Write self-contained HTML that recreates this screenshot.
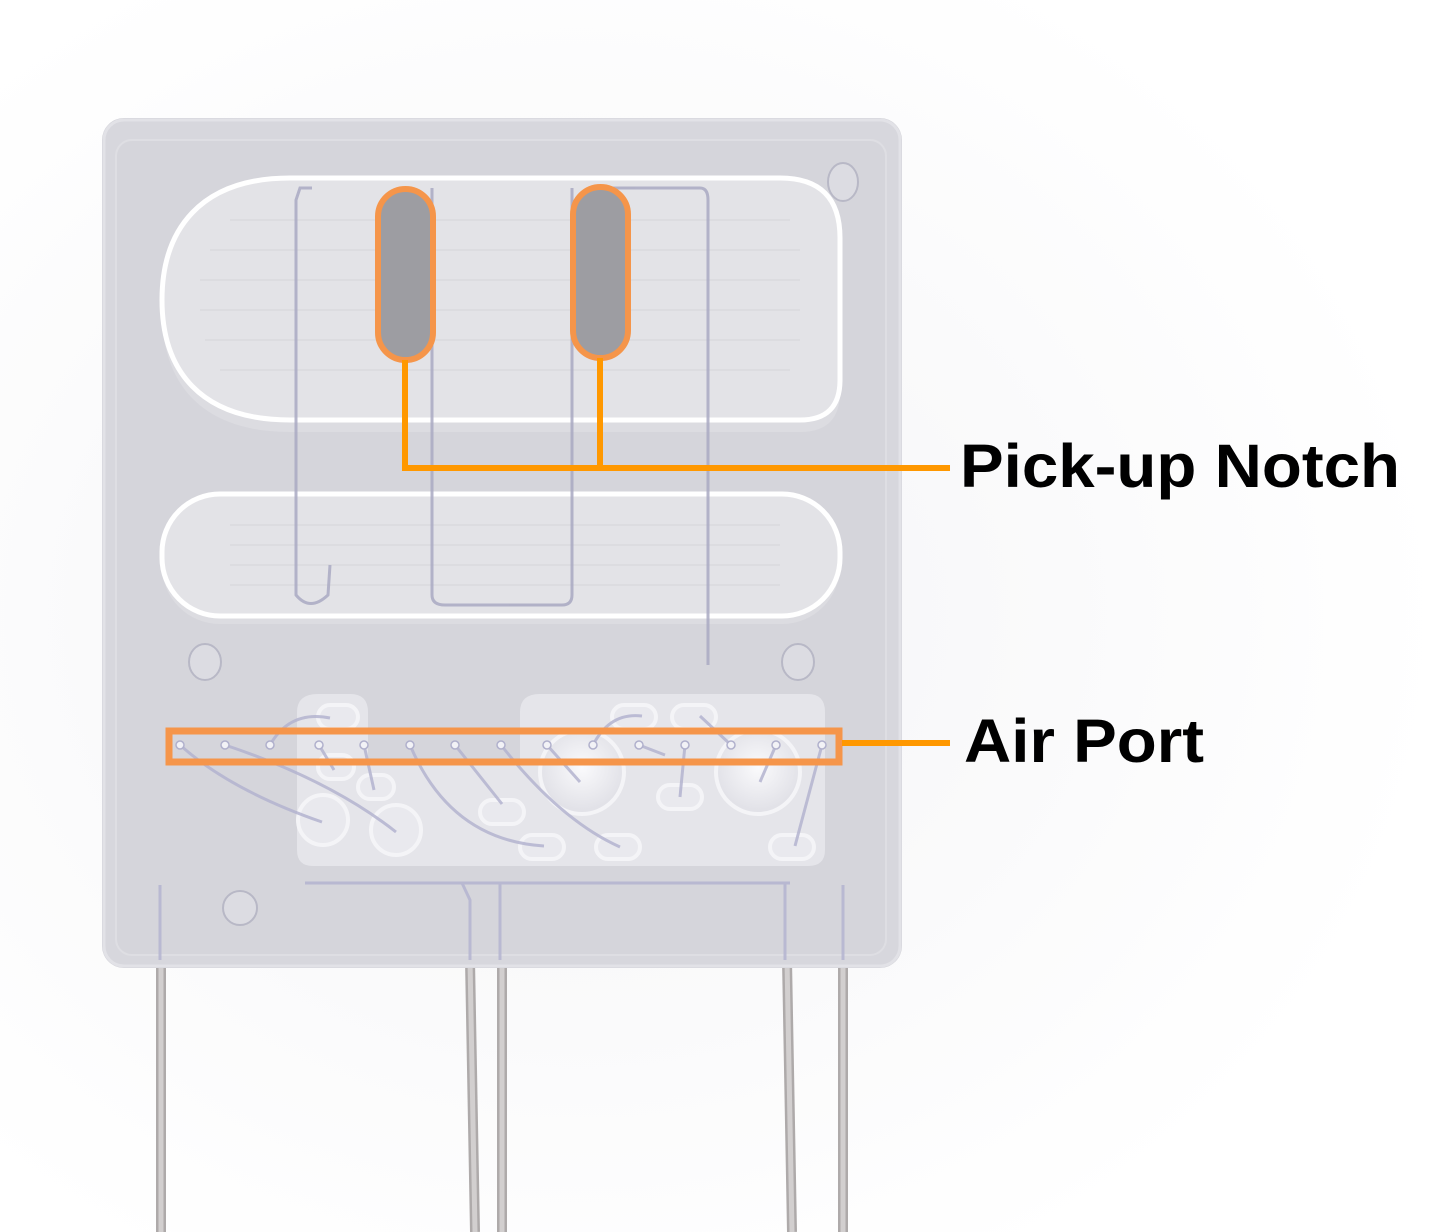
<!DOCTYPE html>
<html><head><meta charset="utf-8"><style>
html,body{margin:0;padding:0;background:#fff;}
svg{display:block;}
</style></head><body>
<svg width="1444" height="1232" viewBox="0 0 1444 1232" xmlns="http://www.w3.org/2000/svg">
<defs>
<radialGradient id="bg" cx="0.4" cy="0.5" r="0.6">
<stop offset="0" stop-color="#f4f4f6"/><stop offset="1" stop-color="#ffffff"/>
</radialGradient>
<radialGradient id="dome" cx="0.5" cy="0.45" r="0.5">
<stop offset="0" stop-color="#fafafc"/><stop offset="1" stop-color="#e2e2e8"/>
</radialGradient>
</defs>
<rect width="1444" height="1232" fill="url(#bg)"/>
<g stroke-linecap="butt">
<line x1="161" y1="960" x2="161" y2="1232" stroke="#aeaaaa" stroke-width="10"/>
<line x1="161" y1="960" x2="161" y2="1232" stroke="#d2cfcf" stroke-width="5"/>
<line x1="470" y1="960" x2="475" y2="1232" stroke="#aeaaaa" stroke-width="10"/>
<line x1="470" y1="960" x2="475" y2="1232" stroke="#d2cfcf" stroke-width="5"/>
<line x1="502" y1="960" x2="502" y2="1232" stroke="#aeaaaa" stroke-width="10"/>
<line x1="502" y1="960" x2="502" y2="1232" stroke="#d2cfcf" stroke-width="5"/>
<line x1="787" y1="960" x2="792" y2="1232" stroke="#aeaaaa" stroke-width="10"/>
<line x1="787" y1="960" x2="792" y2="1232" stroke="#d2cfcf" stroke-width="5"/>
<line x1="843" y1="960" x2="843" y2="1232" stroke="#aeaaaa" stroke-width="10"/>
<line x1="843" y1="960" x2="843" y2="1232" stroke="#d2cfcf" stroke-width="5"/>
</g>
<rect x="102" y="118" width="800" height="850" rx="22" fill="#d2d2d8"/>
<rect x="104" y="120" width="796" height="846" rx="20" fill="#d7d7dd" stroke="#e2e2e7" stroke-width="3"/>
<rect x="116" y="140" width="770" height="815" rx="16" fill="#d5d5db" stroke="#dedee3" stroke-width="2"/>
<g fill="#dcdce2" stroke="#b8b8c6" stroke-width="2">
<ellipse cx="843" cy="182" rx="15" ry="19"/>
<ellipse cx="205" cy="662" rx="16" ry="18"/>
<ellipse cx="798" cy="662" rx="16" ry="18"/>
<ellipse cx="240" cy="908" rx="17" ry="17"/>
</g>
<!-- upper chamber -->
<path d="M290,190 H780 Q840,190 840,250 V392 Q840,432 800,432 H290 C200,432 162,382 162,312 C162,242 200,190 290,190 Z" fill="#dcdce1"/>
<path d="M290,178 H780 Q840,178 840,238 V380 Q840,420 800,420 H290 C200,420 162,370 162,300 C162,230 200,178 290,178 Z" fill="#e3e3e7" stroke="#ffffff" stroke-width="5"/>
<g stroke="#d9d9df" stroke-width="2" fill="none" opacity="0.8">
<path d="M230,220 H790 M210,250 H800 M200,280 H800 M200,310 H800 M205,340 H800 M220,370 H790"/>
</g>
<!-- lower chamber -->
<rect x="162" y="502" width="678" height="122" rx="58" fill="#dcdce1"/>
<rect x="162" y="494" width="678" height="122" rx="58" fill="#e3e3e7" stroke="#ffffff" stroke-width="5"/>
<g stroke="#d9d9df" stroke-width="2" fill="none" opacity="0.8">
<path d="M230,525 H780 M230,545 H780 M230,565 H780 M230,585 H780"/>
</g>
<g fill="none" stroke="#a9a9c2" stroke-width="3" opacity="0.85">
<path d="M312,188 L300,188 L296,200 L296,595 Q310,612 328,595 L330,565"/>
<path d="M432,188 L432,595 Q432,605 445,605 L562,605 Q572,605 572,595 L572,188"/>
<path d="M600,188 L700,188 Q708,188 708,200 L708,665"/>
</g>
<rect x="378" y="189" width="55" height="171" rx="27.5" fill="#9d9da2" stroke="#f5954a" stroke-width="6"/>
<rect x="573" y="187" width="55" height="171" rx="27.5" fill="#9d9da2" stroke="#f5954a" stroke-width="6"/>
<path d="M405,360 V468 H950 M600,358 V468" fill="none" stroke="#ff9800" stroke-width="6"/>
<path d="M318,694 L350,694 Q368,694 368,712 L368,760 L520,760 L520,712 Q520,694 540,694 L808,694 Q825,694 825,712 L825,850 Q825,866 808,866 L313,866 Q297,866 297,850 L297,712 Q297,694 318,694 Z" fill="#e5e5ea"/>
<g fill="#e9e9ee" stroke="#f4f4f7" stroke-width="4">
<circle cx="323" cy="820" r="25"/><circle cx="396" cy="830" r="25"/>
<circle cx="582" cy="772" r="42" fill="url(#dome)"/><circle cx="758" cy="772" r="42" fill="url(#dome)"/>
<rect x="480" y="800" width="44" height="24" rx="12"/>
<rect x="520" y="835" width="44" height="24" rx="12"/>
<rect x="596" y="835" width="44" height="24" rx="12"/>
<rect x="658" y="785" width="44" height="24" rx="12"/>
<rect x="770" y="835" width="44" height="24" rx="12"/>
<rect x="612" y="705" width="44" height="24" rx="12"/>
<rect x="672" y="705" width="44" height="24" rx="12"/>
<rect x="318" y="705" width="40" height="24" rx="12"/>
<rect x="318" y="755" width="36" height="24" rx="12"/>
<rect x="358" y="775" width="36" height="24" rx="12"/>
</g>
<g fill="none" stroke="#b4b4d0" stroke-width="3" opacity="0.85">
<path d="M180,745 Q230,790 322,822"/>
<path d="M225,745 Q330,780 396,832"/>
<path d="M270,745 Q290,710 330,718"/>
<path d="M319,745 L334,770"/>
<path d="M364,745 L374,790"/>
<path d="M410,745 Q450,840 544,846"/>
<path d="M455,745 L502,804"/>
<path d="M501,745 Q560,820 620,847"/>
<path d="M547,745 L580,782"/>
<path d="M593,745 Q610,712 642,716"/>
<path d="M639,745 L665,755"/>
<path d="M685,745 L680,797"/>
<path d="M731,745 L700,716"/>
<path d="M776,745 L760,782"/>
<path d="M822,745 L795,846"/>
<path d="M305,883 H790 M462,883 L470,900 V960 M500,883 V960 M785,883 V960 M160,885 V960 M843,885 V960"/>
</g>
<g fill="#f2f2f6" stroke="#b0b0cc" stroke-width="1.5">
<circle cx="180" cy="745" r="4"/><circle cx="225" cy="745" r="4"/><circle cx="270" cy="745" r="4"/>
<circle cx="319" cy="745" r="4"/><circle cx="364" cy="745" r="4"/><circle cx="410" cy="745" r="4"/>
<circle cx="455" cy="745" r="4"/><circle cx="501" cy="745" r="4"/><circle cx="547" cy="745" r="4"/>
<circle cx="593" cy="745" r="4"/><circle cx="639" cy="745" r="4"/><circle cx="685" cy="745" r="4"/>
<circle cx="731" cy="745" r="4"/><circle cx="776" cy="745" r="4"/><circle cx="822" cy="745" r="4"/>
</g>
<rect x="169" y="731" width="670" height="31" fill="none" stroke="#f5954a" stroke-width="7"/>
<line x1="842" y1="743" x2="950" y2="743" stroke="#ff9800" stroke-width="6"/>
<text x="960" y="487" font-family="Liberation Sans, sans-serif" font-weight="bold" font-size="61" fill="#000" textLength="440" lengthAdjust="spacingAndGlyphs">Pick-up Notch</text>
<text x="964" y="762" font-family="Liberation Sans, sans-serif" font-weight="bold" font-size="61" fill="#000" textLength="240" lengthAdjust="spacingAndGlyphs">Air Port</text>
</svg>
</body></html>
